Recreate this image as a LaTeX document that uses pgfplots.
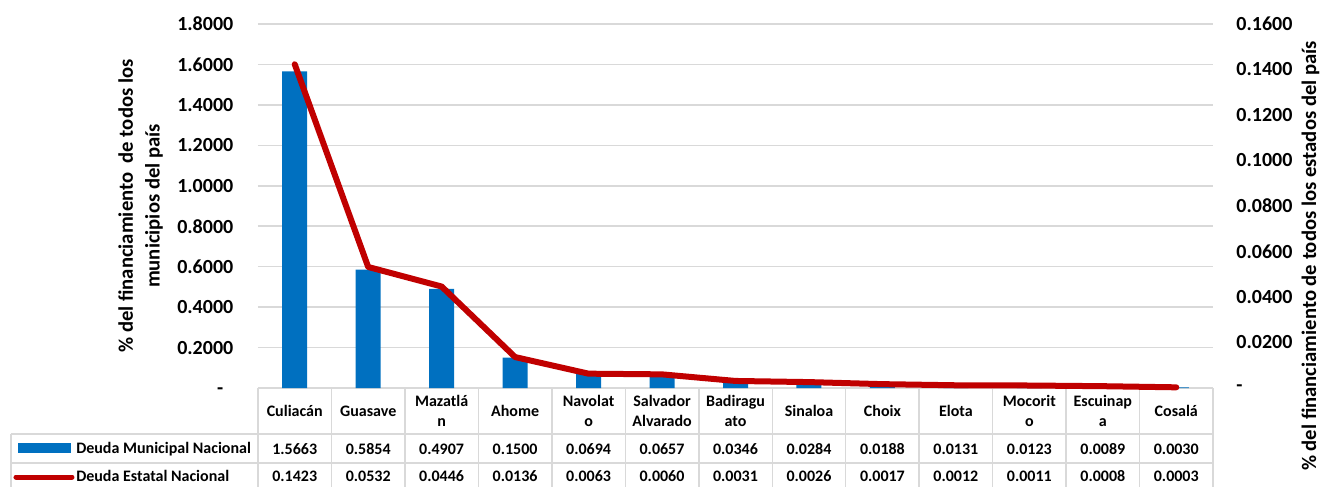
\documentclass[border=0pt]{standalone}
\usepackage{fontspec}
\setmainfont{Carlito}
\usepackage{pgfplots}
\pgfplotsset{compat=1.18}
\usepackage{pgfplotstable}
\definecolor{barblue}{HTML}{0070C0}
\definecolor{linered}{HTML}{C00000}
\definecolor{gridgray}{HTML}{D9D9D9}

\pgfplotstableread{
i mun est
0 1.5663 0.1423
1 0.5854 0.0532
2 0.4907 0.0446
3 0.1500 0.0136
4 0.0694 0.0063
5 0.0657 0.0060
6 0.0346 0.0031
7 0.0284 0.0026
8 0.0188 0.0017
9 0.0131 0.0012
10 0.0123 0.0011
11 0.0089 0.0008
12 0.0030 0.0003
}\data

\newcommand{\tickfont}{\fontsize{15}{20}\selectfont\bfseries}
\newcommand{\labfont}{\fontsize{15.5}{20}\selectfont\bfseries}
\newcommand{\tabfont}{\fontsize{12}{15}\selectfont\bfseries}

\begin{document}
\begin{tikzpicture}
\path[use as bounding box] (-193.5pt,-74.25pt) rectangle (804pt,291pt);
% table grid
\begin{scope}[gridgray, line width=1.1pt]
\draw (0,0) -- (716.25pt,0);
\draw (-185.25pt,-34.5pt) -- (716.25pt,-34.5pt);
\draw (-185.25pt,-56.25pt) -- (716.25pt,-56.25pt);
\draw (-185.25pt,-34.5pt) -- (-185.25pt,-74.25pt);
\foreach \k in {0,...,13} {\draw (\k*55.096pt,0) -- (\k*55.096pt,-74.25pt);}
\end{scope}
\begin{axis}[
 at={(0,0)}, anchor=south west, scale only axis,
 width=716.25pt, height=273pt,
 xmin=-0.5, xmax=12.5, ymin=0, ymax=1.8,
 ybar, bar width=18.75pt,
 axis line style={draw=none},
 major tick length=0pt,
 xtick={0,...,12},
 xticklabels={Culiacán, Guasave, {Mazatlá\\n}, Ahome, {Navolat\\o}, {Salvador\\Alvarado}, {Badiragu\\ato}, Sinaloa, Choix, Elota, {Mocorit\\o}, {Escuinap\\a}, Cosalá},
 xticklabel style={anchor=center, align=center, font=\tabfont, yshift=-17.25pt},
 ytick={0,0.2,0.4,0.6,0.8,1.0,1.2,1.4,1.6,1.8},
 yticklabels={-\phantom{0},0.2000,0.4000,0.6000,0.8000,1.0000,1.2000,1.4000,1.6000,1.8000},
 yticklabel style={font=\tickfont, xshift=-15pt},
 ymajorgrids, grid style={gridgray, line width=1.1pt},
 clip=false,
]
\addplot[fill=barblue, draw=none] table[x=i,y=mun]{\data};
\node[rotate=90, align=center, font=\labfont] at (axis description cs:-0.1229,0.5) {\% del financiamiento\ \ de todos los\\municipios del país};
\end{axis}
\begin{axis}[
 at={(0,0)}, anchor=south west, scale only axis,
 width=716.25pt, height=273pt,
 xmin=-0.5, xmax=12.5, ymin=0, ymax=0.16,
 axis y line*=right, axis x line=none,
 axis line style={draw=none},
 major tick length=0pt,
 ytick={0,0.02,0.04,0.06,0.08,0.10,0.12,0.14,0.16},
 yticklabels={-,0.0200,0.0400,0.0600,0.0800,0.1000,0.1200,0.1400,0.1600},
 yticklabel style={font=\tickfont, anchor=west, xshift=14pt},
 clip=false,
]
\addplot[linered, line width=4.5pt, line cap=round, line join=round] table[x=i,y=est]{\data};
\addplot[draw=none, mark=none, point meta=\thisrow{mun},
 nodes near coords={\pgfmathprintnumber[fixed,fixed zerofill,precision=4,assume math mode=true]{\pgfplotspointmeta}},
 nodes near coords style={anchor=center, yshift=-45.75pt, font=\tabfont, black}] table[x=i, y expr=0]{\data};
\addplot[draw=none, mark=none, point meta=\thisrow{est},
 nodes near coords={\pgfmathprintnumber[fixed,fixed zerofill,precision=4,assume math mode=true]{\pgfplotspointmeta}},
 nodes near coords style={anchor=center, yshift=-66pt, font=\tabfont, black}] table[x=i, y expr=0]{\data};
\node[rotate=90, font=\labfont] at (axis description cs:1.102,0.3626) {\% del financiamiento de todos los estados del país};
\end{axis}
% legend keys in data table
\fill[barblue] (-180pt,-48.75pt) rectangle (-140.25pt,-41.25pt);
\draw[linered, line width=3.75pt, line cap=round] (-181.5pt,-66.75pt) -- (-139.5pt,-66.75pt);
\node[anchor=west, font=\tabfont, inner sep=0pt] at (-136.5pt,-45.75pt) {Deuda Municipal Nacional};
\node[anchor=west, font=\tabfont, inner sep=0pt] at (-136.5pt,-66pt) {Deuda Estatal Nacional};
\end{tikzpicture}
\end{document}
